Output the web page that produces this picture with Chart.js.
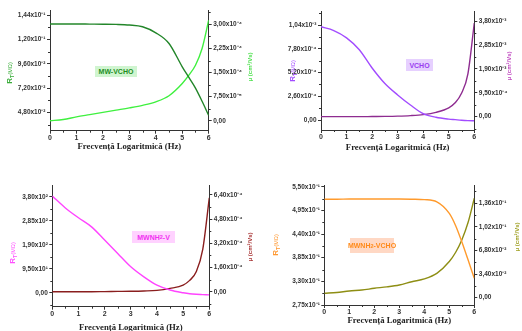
<!DOCTYPE html>
<html>
<head>
<meta charset="utf-8">
<script src="https://cdn.jsdelivr.net/npm/chart.js@4/dist/chart.umd.min.js"></script>
<style>
  body { margin:0; background:#fff; width:522px; height:331px; overflow:hidden; position:relative; }
  canvas { position:absolute; }
  .tag { position:absolute; font:bold 7px 'Liberation Sans', Arial, sans-serif; display:flex; align-items:center; justify-content:center; white-space:nowrap; }
  .tag sub { font-size:5.5px; vertical-align:-1.5px; line-height:0; }
</style>
</head>
<body>
<canvas id="c1" width="261" height="165" style="left:0;top:0"></canvas>
<canvas id="c2" width="261" height="165" style="left:261px;top:0"></canvas>
<canvas id="c3" width="261" height="166" style="left:0;top:165px"></canvas>
<canvas id="c4" width="261" height="166" style="left:261px;top:165px"></canvas>

<div class="tag" style="left:95px;top:66px;width:42px;height:11px;background:#d0f5d0;color:#1f8f1f">MW-VCHO</div>
<div class="tag" style="left:406px;top:59px;width:27px;height:12px;background:#e6d0ff;color:#9a3cf0">VCHO</div>
<div class="tag" style="left:132px;top:231px;width:43px;height:12px;background:#ffd2ff;color:#f030f0">MWNH<sub>2</sub>-V</div>
<div class="tag" style="left:350px;top:238px;width:44px;height:15px;background:#ffd8c4;color:#ff8a1a">MWNH<sub>2</sub>-VCHO</div>

<script>
// Logarithmic frequency (Hz) sampling points, shared by every panel
const freq = [0, 0.5, 1, 1.5, 2, 2.5, 3, 3.5, 4, 4.5, 5, 5.25, 5.5, 5.75, 6];
const xTicks = [0, 1, 2, 3, 4, 5, 6];

// MW-VCHO : R_T in units of 1e-2 MΩ, μ in units of 1e-4 cm²/Vs
const mwVchoR  = [13.52, 13.52, 13.52, 13.51, 13.5, 13.48, 13.42, 13.25, 12.65, 11.6, 9.3, 8.25, 7.2, 5.9, 4.5];
const mwVchoMu = [0.0, 0.04, 0.12, 0.19, 0.26, 0.33, 0.40, 0.48, 0.59, 0.78, 1.16, 1.42, 1.73, 2.25, 3.13];
const mwVchoRTicks  = [4.8, 7.2, 9.6, 12.0, 14.4];
const mwVchoRLabels = ['4,80x10⁻²', '7,20x10⁻²', '9,60x10⁻²', '1,20x10⁻¹', '1,44x10⁻¹'];
const mwVchoMuTicks  = [0, 0.75, 1.5, 2.25, 3.0];
const mwVchoMuLabels = ['0,00', '7,50x10⁻⁵', '1,50x10⁻⁴', '2,25x10⁻⁴', '3,00x10⁻⁴'];

// VCHO : R_T in units of 1e-4 MΩ, μ in units of 1e-3 cm²/Vs
const vchoR  = [10.21, 9.8, 9.0, 7.7, 5.7, 4.0, 2.75, 1.65, 0.7, 0.3, 0.1, 0.04, -0.02, -0.06, -0.08];
const vchoMu = [0, 0, 0, 0, 0.005, 0.01, 0.02, 0.04, 0.08, 0.17, 0.35, 0.55, 0.93, 1.7, 3.72];
const vchoRTicks  = [0, 2.6, 5.2, 7.8, 10.4];
const vchoRLabels = ['0,00', '2,60x10⁻⁴', '5,20x10⁻⁴', '7,80x10⁻⁴', '1,04x10⁻³'];
const vchoMuTicks  = [0, 0.95, 1.9, 2.85, 3.8];
const vchoMuLabels = ['0,00', '9,50x10⁻⁴', '1,90x10⁻³', '2,85x10⁻³', '3,80x10⁻³'];

// MWNH2-V : R_T in units of 1e2 MΩ, μ in units of 1e-4 cm²/Vs
const mwnhVR  = [3.83, 3.36, 2.97, 2.61, 2.09, 1.56, 1.03, 0.63, 0.30, 0.11, 0.0, -0.04, -0.06, -0.07, -0.08];
const mwnhVMu = [0, 0, 0, 0, 0.01, 0.02, 0.03, 0.05, 0.09, 0.22, 0.44, 0.75, 1.32, 2.8, 6.2];
const mwnhVRTicks  = [0, 0.95, 1.9, 2.85, 3.8];
const mwnhVRLabels = ['0,00', '9,50x10¹', '1,90x10²', '2,85x10²', '3,80x10²'];
const mwnhVMuTicks  = [0, 1.6, 3.2, 4.8, 6.4];
const mwnhVMuLabels = ['0,00', '1,60x10⁻⁴', '3,20x10⁻⁴', '4,80x10⁻⁴', '6,40x10⁻⁴'];

// MWNH2-VCHO : R_T in units of 1e-1 MΩ, μ in units of 1e-1 cm²/Vs
const mwnhVchoR  = [5.21, 5.21, 5.215, 5.215, 5.215, 5.215, 5.215, 5.21, 5.2, 5.15, 4.88, 4.6, 4.22, 3.8, 3.37];
const mwnhVchoMu = [0.063, 0.075, 0.097, 0.11, 0.135, 0.155, 0.183, 0.23, 0.27, 0.35, 0.52, 0.65, 0.83, 1.08, 1.43];
const mwnhVchoRTicks  = [2.75, 3.3, 3.85, 4.4, 4.95, 5.5];
const mwnhVchoRLabels = ['2,75x10⁻¹', '3,30x10⁻¹', '3,85x10⁻¹', '4,40x10⁻¹', '4,95x10⁻¹', '5,50x10⁻¹'];
const mwnhVchoMuTicks  = [0, 0.34, 0.68, 1.02, 1.36];
const mwnhVchoMuLabels = ['0,00', '3,40x10⁻²', '6,80x10⁻²', '1,02x10⁻¹', '1,36x10⁻¹'];

const AXIS = '#333';
const TICK_FONT = { family: "'Liberation Sans', Arial, sans-serif", size: 6.5, weight: 'bold' };

// short intermediate tick marks between the labelled ones
const minorTicks = {
  id: 'minorTicks',
  afterDraw(chart) {
    const ctx = chart.ctx;
    ctx.save();
    ctx.strokeStyle = AXIS;
    ctx.lineWidth = 1;
    for (const s of Object.values(chart.scales)) {
      const vals = s.ticks.map(t => t.value);
      if (vals.length < 2) continue;
      const step = vals[1] - vals[0];
      for (let v = vals[0] - step / 2; v <= s.max + 1e-9; v += step) {
        if (v < s.min - 1e-9) continue;
        const p = Math.round(s.getPixelForValue(v)) + 0.5;
        ctx.beginPath();
        if (s.position === 'bottom') { ctx.moveTo(p, s.top); ctx.lineTo(p, s.top + 2); }
        else if (s.position === 'left') { ctx.moveTo(s.right, p); ctx.lineTo(s.right - 2, p); }
        else { ctx.moveTo(s.left, p); ctx.lineTo(s.left + 2, p); }
        ctx.stroke();
      }
    }
    ctx.restore();
  }
};

// axis titles: frequency below, R_T on the left, mobility on the right
const panelTitles = {
  id: 'panelTitles',
  afterDraw(chart, args, o) {
    const ctx = chart.ctx;
    const area = chart.chartArea;
    ctx.save();
    ctx.fillStyle = '#222';
    ctx.font = "bold 8.7px 'Liberation Serif', 'Times New Roman', serif";
    ctx.textAlign = 'center';
    ctx.textBaseline = 'middle';
    ctx.fillText('Frecvență Logaritmică (Hz)', (area.left + area.right) / 2, o.xTitleY);

    // left title R_T(MΩ), reading bottom to top
    const parts = [
      { t: 'R', f: "bold 8px 'Liberation Sans', Arial, sans-serif", dy: 0 },
      { t: 'T', f: "bold 5.5px 'Liberation Sans', Arial, sans-serif", dy: 2 },
      { t: '(MΩ)', f: "5.5px 'Liberation Sans', Arial, sans-serif", dy: 0 }
    ];
    let total = 0;
    for (const p of parts) { ctx.font = p.f; p.w = ctx.measureText(p.t).width; total += p.w; }
    ctx.save();
    ctx.translate(o.left.x, o.left.y);
    ctx.rotate(-Math.PI / 2);
    ctx.fillStyle = o.left.color;
    ctx.textAlign = 'left';
    ctx.textBaseline = 'middle';
    let cx = -total / 2;
    for (const p of parts) { ctx.font = p.f; ctx.fillText(p.t, cx, p.dy); cx += p.w; }
    ctx.restore();

    // right title μ (cm²/Vs), reading bottom to top
    ctx.save();
    ctx.translate(o.right.x, o.right.y);
    ctx.rotate(-Math.PI / 2);
    ctx.fillStyle = o.right.color;
    ctx.font = "bold 6px 'Liberation Sans', Arial, sans-serif";
    ctx.textAlign = 'center';
    ctx.textBaseline = 'middle';
    ctx.fillText('μ (cm²/Vs)', 0, 0);
    ctx.restore();

    ctx.restore();
  }
};

function yAxis(position, ticks, labels, min, max, fitWidth) {
  return {
    type: 'linear', position, min, max,
    afterBuildTicks: s => { s.ticks = ticks.map(v => ({ value: v })); },
    afterFit: s => { s.width = fitWidth; },
    ticks: { autoSkip: false, padding: 1.5, color: '#333', font: TICK_FONT,
             callback: (v, i) => labels[i] },
    grid: { drawOnChartArea: false, drawTicks: true, tickLength: 3, tickColor: AXIS },
    border: { display: true, color: AXIS, width: 1 }
  };
}

function makePanel(id, p) {
  const canvas = document.getElementById(id);
  const W = canvas.width, H = canvas.height;
  new Chart(canvas, {
    type: 'line',
    data: {
      datasets: [
        { data: freq.map((x, i) => ({ x, y: p.r[i] })), yAxisID: 'yR',
          borderColor: p.rColor, borderWidth: 1.4, pointRadius: 0,
          cubicInterpolationMode: 'monotone', fill: false },
        { data: freq.map((x, i) => ({ x, y: p.mu[i] })), yAxisID: 'yMu',
          borderColor: p.muColor, borderWidth: 1.4, pointRadius: 0,
          cubicInterpolationMode: 'monotone', fill: false }
      ]
    },
    options: {
      responsive: false, animation: false, devicePixelRatio: 1,
      layout: { padding: { top: p.top, left: 0, right: 0, bottom: 0 } },
      plugins: {
        legend: { display: false }, tooltip: { enabled: false },
        panelTitles: p.titles
      },
      scales: {
        x: {
          type: 'linear', min: 0, max: 6,
          afterBuildTicks: s => { s.ticks = xTicks.map(v => ({ value: v })); },
          afterFit: s => { s.height = H - p.bottom; },
          ticks: { autoSkip: false, maxRotation: 0, padding: 0, color: '#333',
                   font: { family: "'Liberation Sans', Arial, sans-serif", size: 7, weight: 'bold' },
                   callback: v => String(v) },
          grid: { drawOnChartArea: false, drawTicks: true, tickLength: 3, tickColor: AXIS },
          border: { display: true, color: AXIS, width: 1 }
        },
        yR: yAxis('left', p.rTicks, p.rLabels, p.rMin, p.rMax, p.left),
        yMu: yAxis('right', p.muTicks, p.muLabels, p.muMin, p.muMax, W - p.right)
      }
    },
    plugins: [minorTicks, panelTitles]
  });
}

makePanel('c1', {
  left: 50, right: 208.7, top: 10, bottom: 130.7,
  r: mwVchoR, mu: mwVchoMu, rColor: '#23862a', muColor: '#3ff03f',
  rTicks: mwVchoRTicks, rLabels: mwVchoRLabels, rMin: 3.0, rMax: 14.9,
  muTicks: mwVchoMuTicks, muLabels: mwVchoMuLabels, muMin: -0.31, muMax: 3.45,
  titles: { xTitleY: 147, left: { x: 10, y: 73, color: '#3aac3a' }, right: { x: 250, y: 67, color: '#4ee04e' } }
});

makePanel('c2', {
  left: 60, right: 213.3, top: 11.7, bottom: 130,
  r: vchoR, mu: vchoMu, rColor: '#a24cff', muColor: '#8e2c90',
  rTicks: vchoRTicks, rLabels: vchoRLabels, rMin: -1.09, rMax: 11.86,
  muTicks: vchoMuTicks, muLabels: vchoMuLabels, muMin: -0.53, muMax: 4.17,
  titles: { xTitleY: 147.5, left: { x: 32, y: 71, color: '#a24cff' }, right: { x: 248, y: 66, color: '#c04ac0' } }
});

makePanel('c3', {
  left: 52.3, right: 209.3, top: 20.7, bottom: 141.7,
  r: mwnhVR, mu: mwnhVMu, rColor: '#ff44ff', muColor: '#8a1e1e',
  rTicks: mwnhVRTicks, rLabels: mwnhVRLabels, rMin: -0.55, rMax: 4.24,
  muTicks: mwnhVMuTicks, muLabels: mwnhVMuLabels, muMin: -0.99, muMax: 7.01,
  titles: { xTitleY: 163, left: { x: 13, y: 88, color: '#ff50ff' }, right: { x: 250, y: 82, color: '#a83434' } }
});

makePanel('c4', {
  left: 63.3, right: 213.3, top: 20, bottom: 140,
  r: mwnhVchoR, mu: mwnhVchoMu, rColor: '#ff9a2c', muColor: '#8e8e14',
  rTicks: mwnhVchoRTicks, rLabels: mwnhVchoRLabels, rMin: 2.75, rMax: 5.54,
  muTicks: mwnhVchoMuTicks, muLabels: mwnhVchoMuLabels, muMin: -0.105, muMax: 1.62,
  titles: { xTitleY: 156, left: { x: 15, y: 80, color: '#ff9933' }, right: { x: 256, y: 72, color: '#a0a024' } }
});
</script>
</body>
</html>
